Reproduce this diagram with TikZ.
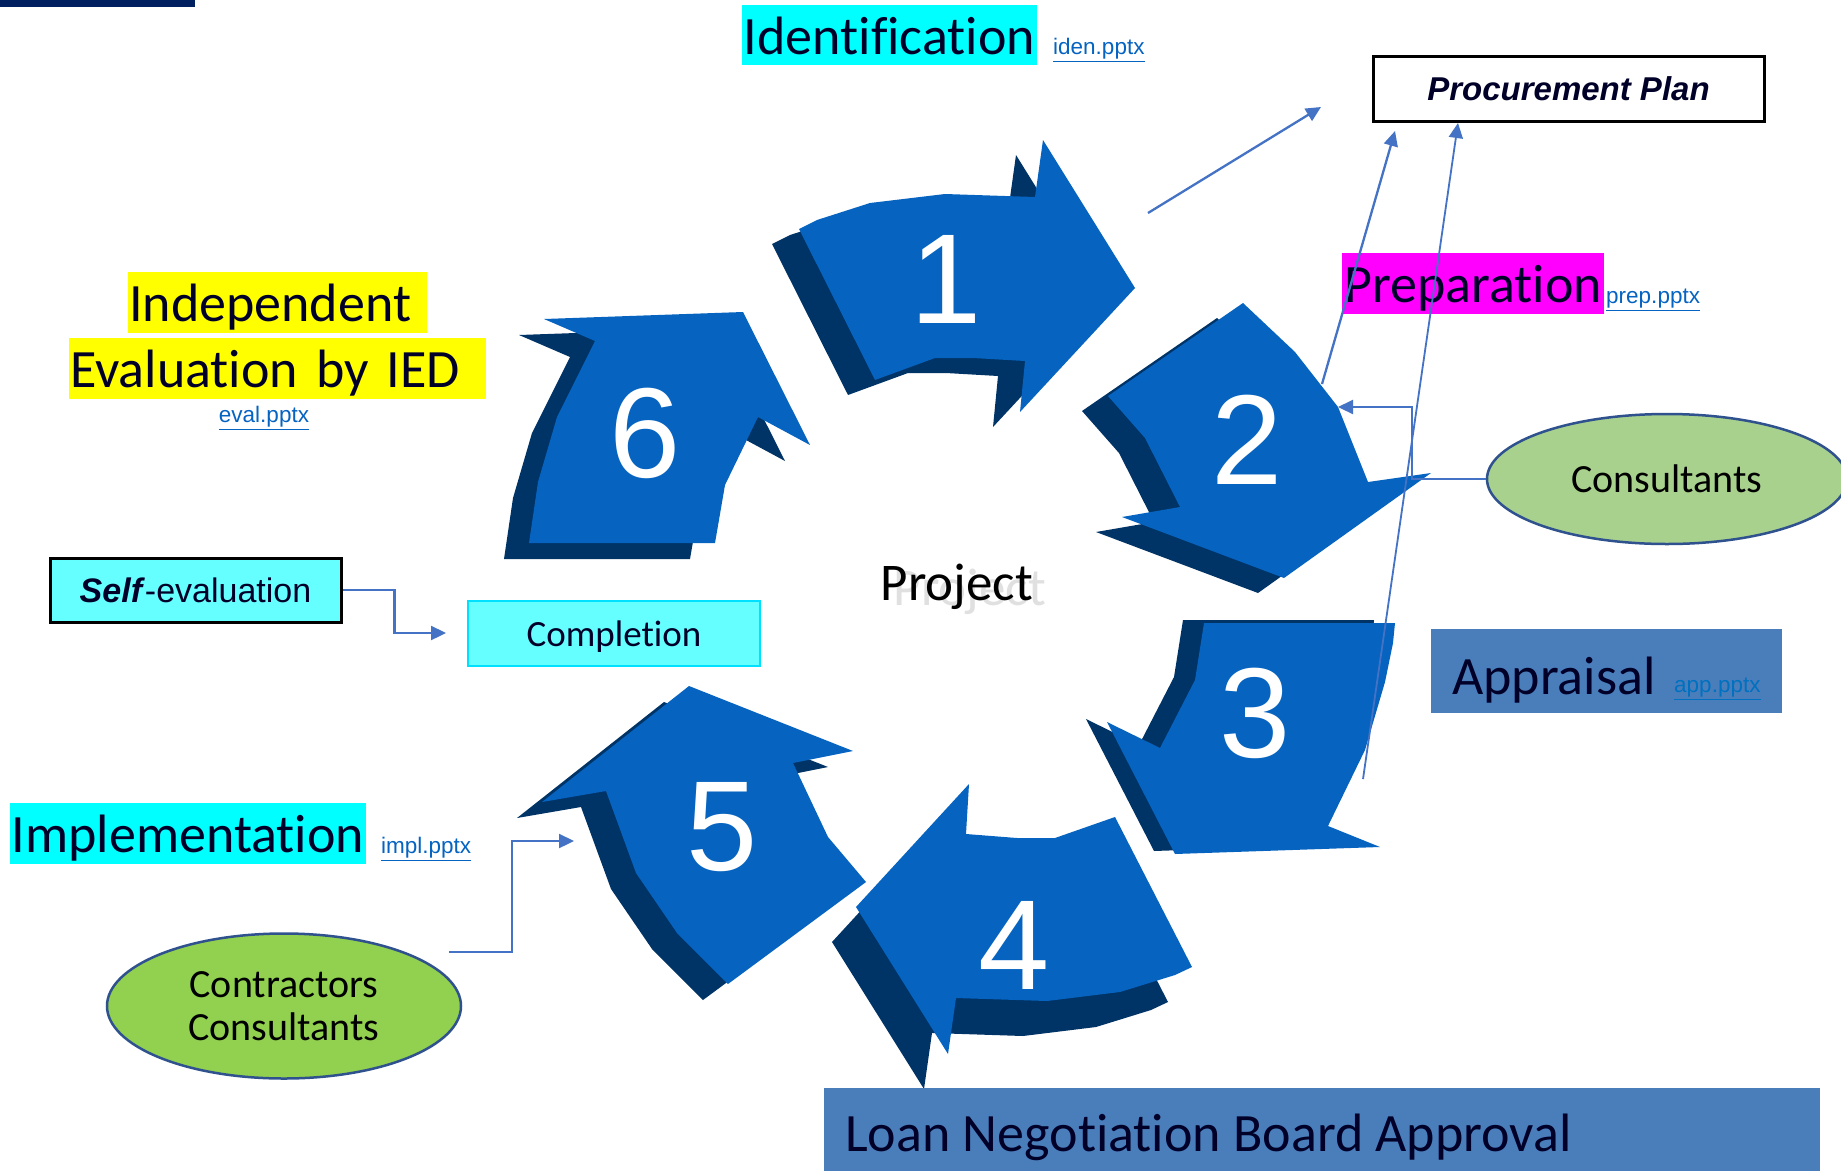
\documentclass[tikz,border=0pt]{standalone}
\usepackage{fontspec}
\setmainfont{Carlito}[Ligatures=NoCommon]
\newfontfamily\arialf{Liberation Sans}
\usetikzlibrary{arrows.meta,shapes.geometric}
\definecolor{arrblue}{RGB}{6,100,192}
\definecolor{arrdark}{RGB}{0,51,102}
\definecolor{lnblue}{RGB}{68,114,196}
\definecolor{txtnavy}{RGB}{0,0,40}
\definecolor{linkblue}{RGB}{5,99,193}
\definecolor{linklight}{RGB}{0,112,192}
\definecolor{cyanbox}{RGB}{0,255,255}
\definecolor{lcyan}{RGB}{102,255,255}
\definecolor{cyanedge}{RGB}{0,225,255}
\definecolor{magbox}{RGB}{255,0,255}
\definecolor{yelbox}{RGB}{255,255,0}
\definecolor{steel}{RGB}{74,126,187}
\definecolor{lgreen}{RGB}{169,209,142}
\definecolor{mgreen}{RGB}{146,208,80}
\definecolor{elborder}{RGB}{47,82,143}
\definecolor{topbar}{RGB}{0,32,96}
\definecolor{ghost}{RGB}{224,224,224}
\newcommand\fsz[2]{\fontsize{#1pt}{#2pt}\selectfont}
\newcommand\cycarrow[2]{%
  \fill[arrdark, shift={#1}] #2 -- cycle;
  \fill[arrblue] #2 -- cycle;}
\tikzset{
  lbl/.style={inner sep=0pt, text=txtnavy, font=\fsz{54}{60}, text height=38pt, text depth=0pt},
  digit/.style={inner sep=0pt, text=white, font=\arialf\fsz{128}{140}},
  linktxt/.style={inner sep=0pt, text=linkblue, font=\arialf\fsz{22.5}{26}},
  conn/.style={draw=lnblue, line width=2.3pt, -{Triangle[length=15pt,width=14pt]}},
  bubble/.style={ellipse, draw=elborder, line width=2.5pt, inner sep=0pt, text=black, font=\fsz{40}{43}, align=center}
}
\begin{document}
\begin{tikzpicture}[x=1pt,y=-1pt]
\useasboundingbox (0,0) rectangle (1841,1170);
\fill[white] (0,0) rectangle (1841,1170);
\fill[topbar] (0,0) rectangle (195,7);

% cycle arrows
\cycarrow{(-27,15)}{(799,229) -- (817,220) -- (870,203) -- (945,194) -- (1035,197) -- (1043,140) -- (1135,288) -- (1020,412) -- (1025,361) -- (973,358) -- (935,358) -- (875,380)}
\cycarrow{(-26,15)}{(1108,396) -- (1243,303) -- (1295,352) -- (1338,407) -- (1368,482) -- (1431,473) -- (1284,578) -- (1122,517) -- (1180,507) -- (1145,438)}
\cycarrow{(-21,-3)}{(1204,623) -- (1395,623) -- (1393,643) -- (1385,682) -- (1365,750) -- (1328,826) -- (1380,847) -- (1175,854) -- (1107,722) -- (1160,748) -- (1195,680)}
\cycarrow{(-24,35)}{(856,907) -- (969,784) -- (966,834) -- (1017,838) -- (1055,838) -- (1115,817) -- (1192,967) -- (1175,975) -- (1120,992) -- (1047,1001) -- (956,998) -- (948,1054)}
\cycarrow{(-25,16)}{(689,686) -- (853,751) -- (793,763) -- (828,837) -- (866,882) -- (728,984) -- (677,933) -- (636,873) -- (606,791) -- (542,802)}
\cycarrow{(-25,16)}{(544,319) -- (743,312) -- (810,445) -- (758,417) -- (725,485) -- (715,543) -- (529,543) -- (538,482) -- (557,417) -- (595,341)}

\node[digit] (n1) at (946,279) {1};
\node[digit] (n2) at (1247,440) {2};
\node[digit] (n3) at (1255,713) {3};
\node[digit] (n4) at (1014,945) {4};
\node[digit] (n5) at (722,827) {5};
\node[digit] (n6) at (645,433) {6};

% centre text
\node[inner sep=0pt, text=ghost, font=\fsz{53}{60}, anchor=base] (projg) at (970,605) {Project};
\node[inner sep=0pt, text=black, font=\fsz{53}{60}, anchor=base] (proj) at (957,600) {Project};

% stage labels
\node[lbl, fill=cyanbox, minimum width=295pt, minimum height=60pt] (iden) at (889.5,35) {Identification};
\node[linktxt, anchor=west] (idenl) at (1053,50) {\underline{iden.pptx}};

\node[draw=black, line width=3pt, minimum width=391pt, minimum height=65pt, inner sep=0pt, text=txtnavy, font=\arialf\bfseries\itshape\fsz{33}{40}] (proc) at (1568.5,88.5) {Procurement Plan};

\node[lbl, fill=magbox, minimum width=262pt, minimum height=61pt] (prep) at (1473,283.5) {Preparation};
\node[linktxt, anchor=west] (prepl) at (1606,300) {\underline{prep.pptx}};

\node[bubble, fill=lgreen, minimum width=360pt, minimum height=130pt] (cons) at (1667,479) {\raisebox{-3pt}{Consultants}};

\node[fill=steel, minimum width=351pt, minimum height=84pt, inner sep=0pt] (appbox) at (1606.5,671) {};
\node[lbl, anchor=west] (app) at (1452,675) {Appraisal};
\node[linktxt, text=linklight, anchor=west] (appl) at (1674,689) {\underline{app.pptx}};

\node[fill=steel, minimum width=996pt, minimum height=90pt, inner sep=0pt] (loanbox) at (1322,1133) {};
\node[lbl, anchor=west] (loan) at (845,1132) {Loan Negotiation Board Approval};

\node[lbl, fill=cyanbox, minimum width=356pt, minimum height=61pt] (impl) at (188,833.5) {Implementation};
\node[linktxt, anchor=west] (impll) at (381,849) {\underline{impl.pptx}};

\node[bubble, fill=mgreen, minimum width=354pt, minimum height=145pt] (contr) at (284,1006) {\raisebox{-3pt}{Contractors}\\\raisebox{-3pt}{Consultants}};

\node[fill=lcyan, draw=cyanedge, line width=2.5pt, minimum width=292pt, minimum height=65pt, inner sep=0pt, text=txtnavy, font=\fsz{37}{44}, text height=26pt, text depth=0pt] (comp) at (614,633.5) {Completion};

\node[fill=lcyan, draw=black, line width=3pt, minimum width=291pt, minimum height=64pt, inner sep=0pt, text=txtnavy, font=\arialf\fsz{34}{40}] (self) at (195.5,590) {\textbf{\textit{Self}}-evaluation};

\node[lbl, fill=yelbox, anchor=west, minimum height=61pt, text width=297pt, inner xsep=1pt, align=left] (indep) at (128,302.5) {Independent};
\node[lbl, fill=yelbox, anchor=west, minimum height=61pt, text width=415pt, inner xsep=1pt, align=left] (evalied) at (69,368.5) {Evaluation by IED};
\node[linktxt] (evall) at (264,418) {\underline{eval.pptx}};

% connectors
\coordinate (pa) at (1148,213);
\coordinate (pb) at (1321,107);
\coordinate (a2e) at (1322,384);
\coordinate (pc) at (1395,131);
\coordinate (a3e) at (1363,779);
\coordinate (pd) at (1458,123);
\coordinate (a2tip) at (1338,407);
\coordinate (ctip) at (446,633);
\coordinate (c5s) at (449,952);
\coordinate (a5tip) at (574,841);

\draw[conn] (pa) -- (pb);
\draw[conn] (a2e) -- (pc);
\draw[conn, line width=1.8pt] (a3e) -- (pd);
\draw[conn] (cons.west) -- ++(-74,0) |- (a2tip);
\draw[conn] (self.east) -- ++(52,0) |- (ctip);
\draw[conn] (c5s) -- ++(63,0) |- (a5tip);
\end{tikzpicture}
\end{document}
